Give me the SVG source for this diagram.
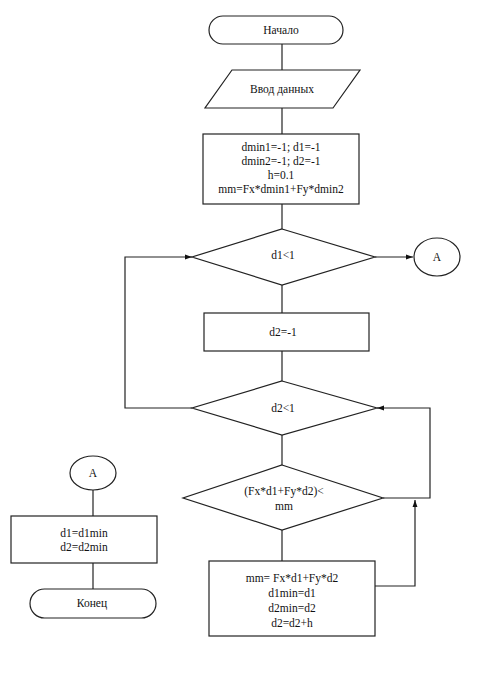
<svg xmlns="http://www.w3.org/2000/svg" width="490" height="685" viewBox="0 0 490 685">
<style>
.s{fill:#fff;stroke:#222;stroke-width:1.2}
.c{fill:none;stroke:#222;stroke-width:1.2}
text{font-family:"Liberation Serif","DejaVu Serif","Times New Roman",serif;font-size:11.5px;fill:#111;text-anchor:middle}
</style>
<defs>
<marker id="ar" viewBox="0 0 10 10" refX="10" refY="5" markerWidth="7" markerHeight="7" orient="auto" markerUnits="userSpaceOnUse">
<path d="M0,1.5 L10,5 L0,8.5 z" fill="#111"/>
</marker>
</defs>
<rect width="490" height="685" fill="#fff"/>
<g id="connectors">
<path class="c" d="M282,44 V70"/>
<path class="c" d="M282,108 V134"/>
<path class="c" d="M282,204 V229"/>
<path class="c" d="M375,257 H413" marker-end="url(#ar)"/>
<path class="c" d="M282,285 V313"/>
<path class="c" d="M282,351 V381"/>
<path class="c" d="M192,408 H125 V257 H192" marker-end="url(#ar)"/>
<path class="c" d="M282,435 V465"/>
<path class="c" d="M383,498 H430 V408 H377" marker-end="url(#ar)"/>
<path class="c" d="M282,530 V561"/>
<path class="c" d="M375,586 H415 V500" marker-end="url(#ar)"/>
<path class="c" d="M93,490 V516"/>
<path class="c" d="M93,563 V589"/>
</g>
<g id="start">
<rect class="s" x="209" y="16" width="134" height="28" rx="14" ry="14"/>
<text x="281" y="34" font-family="Liberation Serif, serif">Начало</text>
</g>
<g id="input">
<polygon class="s" points="232,70 360,70 333,108 205,108"/>
<text x="282" y="93" font-family="Liberation Serif, serif">Ввод данных</text>
</g>
<g id="init">
<rect class="s" x="203" y="134" width="156" height="70"/>
<text x="281" y="151" font-family="Liberation Serif, serif">dmin1=-1; d1=-1</text>
<text x="281" y="165" font-family="Liberation Serif, serif">dmin2=-1; d2=-1</text>
<text x="281" y="179" font-family="Liberation Serif, serif">h=0.1</text>
<text x="281" y="193" font-family="Liberation Serif, serif">mm=Fx*dmin1+Fy*dmin2</text>
</g>
<g id="cond1">
<polygon class="s" points="282,229 375,257 282,285 192,257"/>
<text x="283" y="259" font-family="Liberation Serif, serif">d1&lt;1</text>
</g>
<g id="connA1">
<ellipse class="s" cx="437" cy="257" rx="23" ry="19"/>
<text x="437" y="261" font-family="Liberation Serif, serif">A</text>
</g>
<g id="setd2">
<rect class="s" x="204" y="313" width="165" height="38"/>
<text x="283" y="336" font-family="Liberation Serif, serif">d2=-1</text>
</g>
<g id="cond2">
<polygon class="s" points="282,381 377,408 282,435 192,408"/>
<text x="283" y="412" font-family="Liberation Serif, serif">d2&lt;1</text>
</g>
<g id="cond3">
<polygon class="s" points="282,465 383,498 282,530 183,498"/>
<text x="284" y="495" font-family="Liberation Serif, serif">(Fx*d1+Fy*d2)&lt;</text>
<text x="284" y="510" font-family="Liberation Serif, serif">mm</text>
</g>
<g id="update">
<rect class="s" x="209" y="561" width="166" height="75"/>
<text x="292" y="582" font-family="Liberation Serif, serif">mm= Fx*d1+Fy*d2</text>
<text x="292" y="597" font-family="Liberation Serif, serif">d1min=d1</text>
<text x="292" y="612" font-family="Liberation Serif, serif">d2min=d2</text>
<text x="292" y="627" font-family="Liberation Serif, serif">d2=d2+h</text>
</g>
<g id="connA2">
<ellipse class="s" cx="93" cy="473" rx="23" ry="17"/>
<text x="93" y="477" font-family="Liberation Serif, serif">A</text>
</g>
<g id="final">
<rect class="s" x="11" y="516" width="146" height="47"/>
<text x="84" y="537" font-family="Liberation Serif, serif">d1=d1min</text>
<text x="84" y="551" font-family="Liberation Serif, serif">d2=d2min</text>
</g>
<g id="end">
<rect class="s" x="30" y="589" width="126" height="29" rx="14.5" ry="14.5"/>
<text x="92" y="607" font-family="Liberation Serif, serif">Конец</text>
</g>
</svg>
